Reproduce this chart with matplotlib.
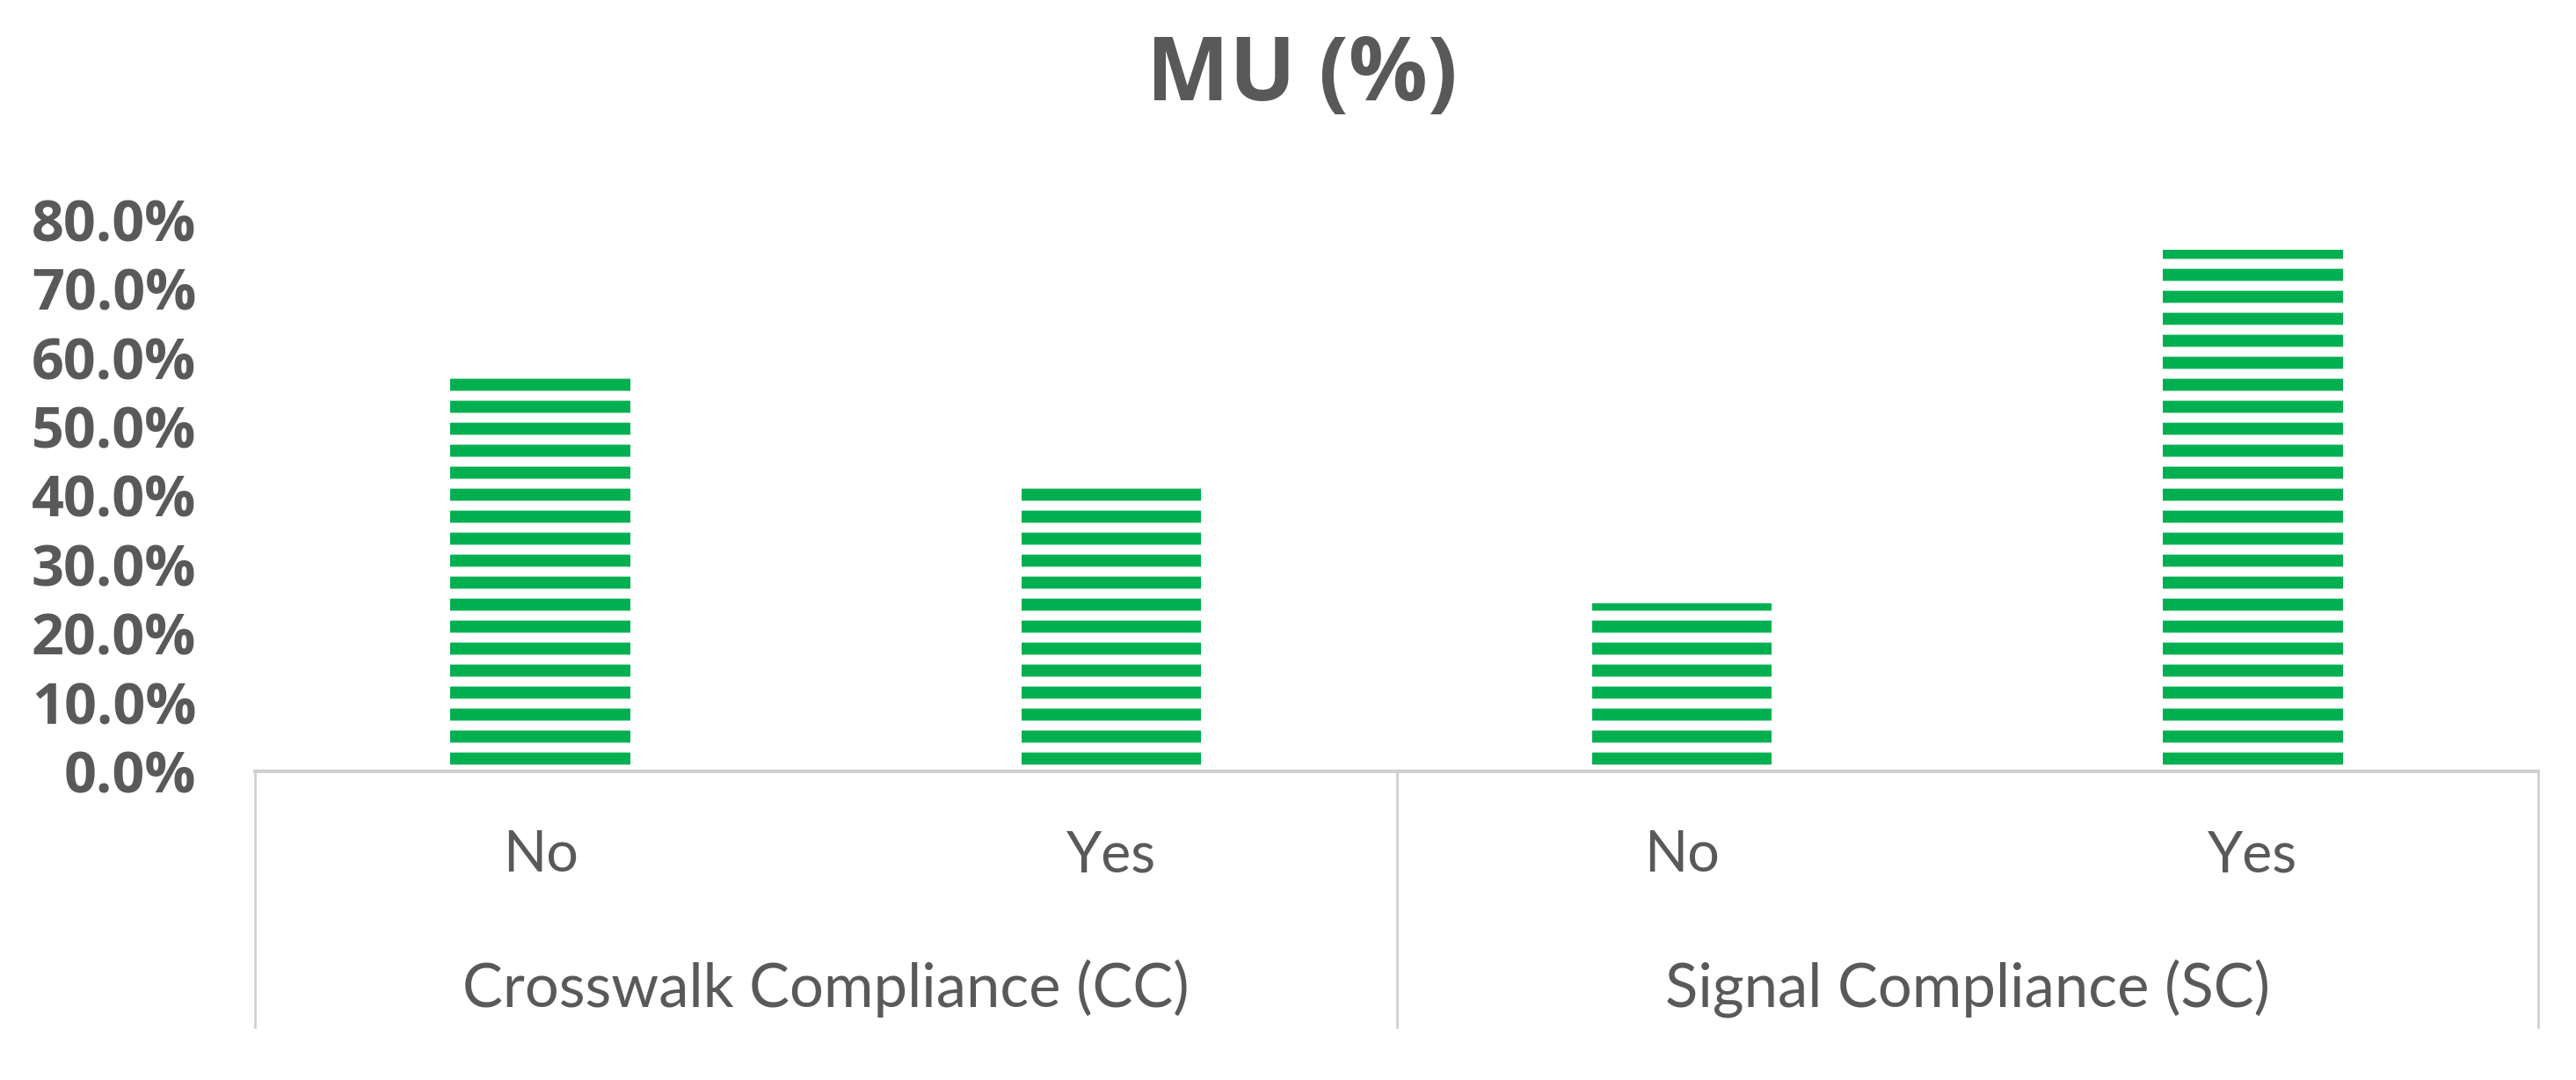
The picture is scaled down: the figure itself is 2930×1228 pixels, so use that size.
import matplotlib
matplotlib.use("Agg")
import matplotlib.pyplot as plt
import matplotlib.transforms as mtransforms

# ---- data ----
groups = ["Crosswalk Compliance (CC)", "Signal Compliance (SC)"]
sub_labels = ["No", "Yes", "No", "Yes"]
mu_values = [57.9, 42.1, 24.4, 75.6]
y_ticks = [0, 10, 20, 30, 40, 50, 60, 70, 80]
title = "MU (%)"

DPI = 150
W, H = 2930, 1228
TEXT = "#595959"
GREEN = "#00B050"
LINE = "#D0D0D0"

plt.rcParams["hatch.linewidth"] = 6.6

fig = plt.figure(figsize=(W / DPI, H / DPI), dpi=DPI)
fig.patch.set_facecolor("white")

# axes placement (pixels converted to fractions)
left_px, right_px, top_px, bottom_px = 290, 2887, 250, 877
ax = fig.add_axes([left_px / W, 1 - bottom_px / H,
                   (right_px - left_px) / W, (bottom_px - top_px) / H])

x = list(range(len(mu_values)))
ax.bar(x, mu_values, width=0.315, facecolor="white", edgecolor=GREEN,
       linewidth=0, hatch="-")

ax.set_xlim(-0.5, len(mu_values) - 0.5)
ax.set_ylim(0, 80)

for s in ["top", "right", "left"]:
    ax.spines[s].set_visible(False)
ax.spines["bottom"].set_color(LINE)
ax.spines["bottom"].set_linewidth(1.9)

ax.set_yticks(y_ticks)
ax.set_yticklabels([f"{v:.1f}%" for v in y_ticks],
                   fontfamily="Open Sans", fontweight="bold",
                   fontsize=31, color=TEXT)
ax.tick_params(axis="y", length=0, pad=32)

ax.set_xticks(x)
ax.set_xticklabels(sub_labels, fontfamily="Lato", fontsize=31, color=TEXT,
                   va="center")
ax.tick_params(axis="x", length=0, pad=46)

# group dividers and labels
trans = mtransforms.blended_transform_factory(ax.transData, ax.transAxes)
depth = -(1168 - bottom_px) / (bottom_px - top_px)
for xd in [-0.5, 1.5, 3.5]:
    ax.plot([xd, xd], [0, depth], transform=trans, color=LINE,
            linewidth=1.3, clip_on=False)

group_y = -(1124 - bottom_px) / (bottom_px - top_px)
n_per = len(sub_labels) // len(groups)
for gi, g in enumerate(groups):
    xc = gi * n_per + (n_per - 1) / 2
    ax.text(xc, group_y, g, transform=trans, ha="center", va="center",
            fontfamily="Lato", fontsize=33, color=TEXT)

fig.text(1481 / W, 1 - 87 / H, title, ha="center", va="center",
         fontfamily="Open Sans", fontweight="bold", fontsize=48, color=TEXT)

fig.savefig("out.png", dpi=DPI, facecolor="white")
